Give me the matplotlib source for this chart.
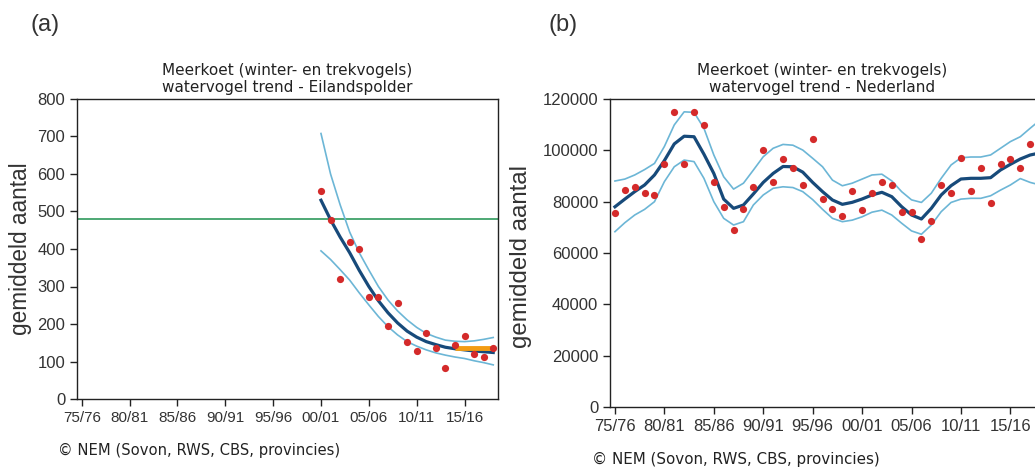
import matplotlib.pyplot as plt
import numpy as np

# seasons as index: 0 = 75/76 ... 43 = 18/19
tick_pos = [0, 5, 10, 15, 20, 25, 30, 35, 40]
tick_labels = ['75/76', '80/81', '85/86', '90/91', '95/96', '00/01', '05/06', '10/11', '15/16']

# (a) Eilandspolder, 00/01 - 18/19
x_a = np.arange(25, 44)
counts_a = [554, 477, 321, 418, 401, 273, 273, 196, 257, 152, 128, 177, 137, 84, 144, 169, 121, 113, 137]
trend_a = [530, 478, 432, 390, 343, 300, 262, 230, 203, 181, 165, 153, 145, 138, 134, 131, 128, 126, 124]
upper_a = [708, 600, 518, 445, 390, 344, 300, 264, 235, 211, 191, 175, 165, 157, 154, 153, 155, 159, 164]
lower_a = [395, 372, 345, 317, 283, 251, 220, 193, 171, 153, 141, 131, 123, 117, 112, 108, 102, 97, 91]
reference_a = 480
recent_x_a = [39, 43]
recent_a = [135, 135]

# (b) Nederland, 75/76 - 18/19
x_b_counts = np.arange(0, 43)
counts_b = [75600, 84500, 85800, 83200, 82700, 94800, 115100, 94800, 115100, 109700,
            87500, 77900, 68800, 77300, 85800, 100300, 87500, 96800, 93000, 86400,
            104400, 81000, 77300, 74300, 84000, 76800, 83200, 87500, 86400, 76100,
            76100, 65300, 72600, 86400, 83200, 97000, 84000, 93000, 79600, 94800,
            96500, 93000, 102500]
x_b = np.arange(0, 44)
trend_b = [78000, 81000, 83900, 86500, 90400, 96000, 102500, 105500, 105300, 98500,
           91000, 81000, 77400, 78700, 83000, 87500, 91000, 93700, 93600, 91500,
           87500, 83900, 80650, 78960, 79740, 81040, 82600, 83650, 81950, 78040,
           74800, 73250, 77400, 82600, 86230, 88830, 89100, 89100, 89350, 92340,
           94550, 96620, 98180, 99000]
upper_b = [88050, 88800, 90400, 92500, 94900, 101500, 109900, 115000, 114800, 108600,
           98200, 89700, 84900, 87200, 92300, 97500, 100800, 102300, 102000, 100100,
           96900, 93600, 88400, 86200, 87200, 88800, 90400, 90700, 88100, 83900,
           80700, 79700, 83300, 89100, 94300, 97100, 97400, 97400, 98200, 100800,
           103400, 105300, 108600, 111800]
lower_b = [68300, 71800, 74800, 77000, 80000, 87800, 93600, 96200, 95600, 89100,
           80000, 73500, 70900, 72200, 78700, 82600, 85200, 85800, 85500, 83900,
           80800, 77000, 73500, 72200, 72800, 74100, 75900, 76700, 74800, 71600,
           68600, 67300, 70900, 76100, 79700, 81000, 81300, 81300, 82300, 84500,
           86500, 89000, 87500, 86500]

DOT = '#d42a2a'
TREND = '#174a7a'
CI = '#6cb6d6'
TXT = '#333333'
TITLE_FONT = 'DejaVu Sans'
TICK_FONT = 'Liberation Sans'


def style_axes(ax, xfs, yfs):
    ax.set_xlim(-0.5, 43.5)
    ax.set_xticks(tick_pos)
    ax.set_xticklabels(tick_labels)
    for s in ax.spines.values():
        s.set_color('#222222')
        s.set_linewidth(1.0)
    ax.tick_params(axis='both', direction='out', length=5, width=1, colors='#222222')
    for lab in ax.get_xticklabels():
        lab.set_fontfamily(TICK_FONT)
        lab.set_fontsize(xfs)
        lab.set_color(TXT)
    for lab in ax.get_yticklabels():
        lab.set_fontfamily(TICK_FONT)
        lab.set_fontsize(yfs)
        lab.set_color(TXT)


fig = plt.figure(figsize=(10.35, 4.68), dpi=100)

# panel (a)
ax1 = fig.add_axes([77 / 1035, 1 - 399 / 468, 421 / 1035, 300 / 468])
ax1.axhline(reference_a, color='#2f9a5c', lw=1.2, zorder=1)
ax1.plot(x_a, upper_a, color=CI, lw=1.2, zorder=2)
ax1.plot(x_a, lower_a, color=CI, lw=1.2, zorder=2)
ax1.plot(x_a, trend_a, color=TREND, lw=2.3, zorder=3)
ax1.plot(recent_x_a, recent_a, color='#f39c12', lw=3.5, solid_capstyle='butt', zorder=4)
ax1.plot(x_a, counts_a, 'o', color=DOT, ms=5.2, mec='none', zorder=5)
ax1.set_ylim(0, 800)
ax1.set_yticks(range(0, 801, 100))
style_axes(ax1, 11, 12)
ax1.set_ylabel('gemiddeld aantal', fontfamily=TICK_FONT, fontsize=16.3, color=TXT)
ax1.yaxis.set_label_coords(-0.107, 0.5)
ax1.set_title('Meerkoet (winter- en trekvogels)\nwatervogel trend - Eilandspolder',
              fontfamily=TITLE_FONT, fontsize=11, color='#222222', pad=5, linespacing=1.2)

# panel (b)
ax2 = fig.add_axes([610 / 1035, 1 - 407 / 468, 435 / 1035, 308 / 468])
ax2.plot(x_b, upper_b, color=CI, lw=1.2, zorder=2)
ax2.plot(x_b, lower_b, color=CI, lw=1.2, zorder=2)
ax2.plot(x_b, trend_b, color=TREND, lw=2.3, zorder=3)
ax2.plot(x_b_counts, counts_b, 'o', color=DOT, ms=5.2, mec='none', zorder=5)
ax2.set_ylim(0, 120000)
ax2.set_yticks(range(0, 120001, 20000))
style_axes(ax2, 12, 12)
ax2.set_ylabel('gemiddeld aantal', fontfamily=TICK_FONT, fontsize=17.3, color=TXT)
ax2.yaxis.set_label_coords(-0.179, 0.49)
ax2.set_title('Meerkoet (winter- en trekvogels)\nwatervogel trend - Nederland',
              fontfamily=TITLE_FONT, fontsize=11, color='#222222', pad=5, linespacing=1.2,
              x=0.487)

# panel letters and credits
fig.text(31 / 1035, 1 - 25 / 468, '(a)', fontfamily=TICK_FONT, fontsize=17, color=TXT, va='center')
fig.text(548 / 1035, 1 - 25 / 468, '(b)', fontfamily=TICK_FONT, fontsize=17, color=TXT, va='center')
fig.text(58 / 1035, 1 - 450 / 468, '\u00a9 NEM (Sovon, RWS, CBS, provincies)',
         fontfamily=TITLE_FONT, fontsize=10.6, color='#222222', va='center')
fig.text(592 / 1035, 1 - 459 / 468, '\u00a9 NEM (Sovon, RWS, CBS, provincies)',
         fontfamily=TITLE_FONT, fontsize=10.9, color='#222222', va='center')

fig.savefig('out.png', dpi=100)
